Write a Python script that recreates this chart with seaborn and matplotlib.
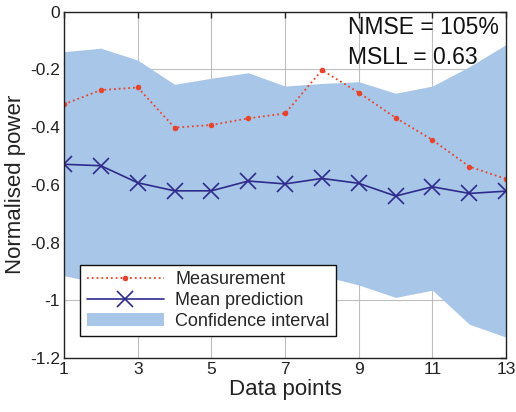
import matplotlib
matplotlib.use("Agg")
import matplotlib.pyplot as plt
import seaborn as sns
import pandas as pd
from matplotlib.patches import Patch
from matplotlib.lines import Line2D

x_points = list(range(1, 14))
measurement = [-0.321, -0.272, -0.263, -0.402, -0.393, -0.370, -0.353,
               -0.203, -0.281, -0.368, -0.445, -0.537, -0.580]
mean_pred = [-0.529, -0.534, -0.593, -0.621, -0.621, -0.587, -0.597,
             -0.578, -0.595, -0.639, -0.607, -0.630, -0.622]
ci_upper = [-0.139, -0.127, -0.168, -0.252, -0.231, -0.212, -0.258,
            -0.249, -0.243, -0.283, -0.258, -0.191, -0.114]
ci_lower = [-0.915, -0.941, -1.018, -0.990, -1.011, -0.962, -0.936,
            -0.915, -0.947, -0.990, -0.965, -1.083, -1.128]
x_ticks = [1, 3, 5, 7, 9, 11, 13]
y_ticks = [0, -0.2, -0.4, -0.6, -0.8, -1.0, -1.2]
y_tick_labels = ["0", "-0.2", "-0.4", "-0.6", "-0.8", "-1", "-1.2"]

sns.set_style("white")
plt.rcParams['font.family'] = ['Liberation Sans', 'DejaVu Sans']

df = pd.DataFrame({"x": x_points, "meas": measurement, "mean": mean_pred})

fig = plt.figure(figsize=(5.16, 4.12), dpi=100)
ax = fig.add_axes([0.124, 0.131, 0.857, 0.841])

fill_color = "#a8c7e8"
red = "#e8432b"
navy = "#2f2b8c"

ax.fill_between(x_points, ci_lower, ci_upper, color=fill_color, lw=0, zorder=1)
sns.lineplot(data=df, x="x", y="meas", ax=ax, color=red, linestyle=":",
             linewidth=1.3, marker="o", markersize=4, markeredgewidth=0,
             markerfacecolor=red, markeredgecolor=red, zorder=3)
sns.lineplot(data=df, x="x", y="mean", ax=ax, color=navy, linestyle="-",
             linewidth=1.2, marker="x", markersize=11, markeredgewidth=1.2,
             markeredgecolor=navy, markerfacecolor=navy, zorder=3)

ax.set_xlim(1, 13)
ax.set_ylim(-1.2, 0)
ax.set_xticks(x_ticks)
ax.set_yticks(y_ticks)
ax.set_yticklabels(y_tick_labels)
ax.grid(True, color="#b0b0b0", linewidth=0.8, alpha=0.8)
for l in ax.get_xgridlines() + ax.get_ygridlines():
    l.set_zorder(2)
for s in ax.spines.values():
    s.set_color("#222222")
    s.set_linewidth(1.0)
    s.set_zorder(4)
ax.tick_params(direction="in", top=True, right=True, length=4, width=1.0,
               labelsize=12.5, colors="#222222", pad=3)
ax.set_xlabel("Data points", fontsize=16, color="#222222", labelpad=1)
ax.set_ylabel("Normalised power", fontsize=16, color="#222222", labelpad=3)

ax.text(0.643, 0.953, "NMSE = 105%", transform=ax.transAxes, fontsize=16.5,
        va="center", ha="left", color="#111111", zorder=5)
ax.text(0.643, 0.868, "MSLL = 0.63", transform=ax.transAxes, fontsize=16.5,
        va="center", ha="left", color="#111111", zorder=5)

handles = [
    Line2D([], [], color=red, linestyle=":", linewidth=1.3, marker="o",
           markersize=4, markeredgewidth=0),
    Line2D([], [], color=navy, linestyle="-", linewidth=1.2, marker="x",
           markersize=11, markeredgewidth=1.2),
    Patch(facecolor=fill_color, edgecolor="none"),
]
leg = ax.legend(handles, ["Measurement", "Mean prediction", "Confidence interval"],
                loc="lower left", bbox_to_anchor=(0.037, 0.064), fontsize=13,
                frameon=True, fancybox=False, framealpha=1, edgecolor="#111111",
                handlelength=4.3, handletextpad=0.6, labelspacing=0.2,
                borderpad=0.35, borderaxespad=0)
leg.get_frame().set_linewidth(1.0)
leg.set_zorder(6)

fig.savefig("out.png", dpi=100)
